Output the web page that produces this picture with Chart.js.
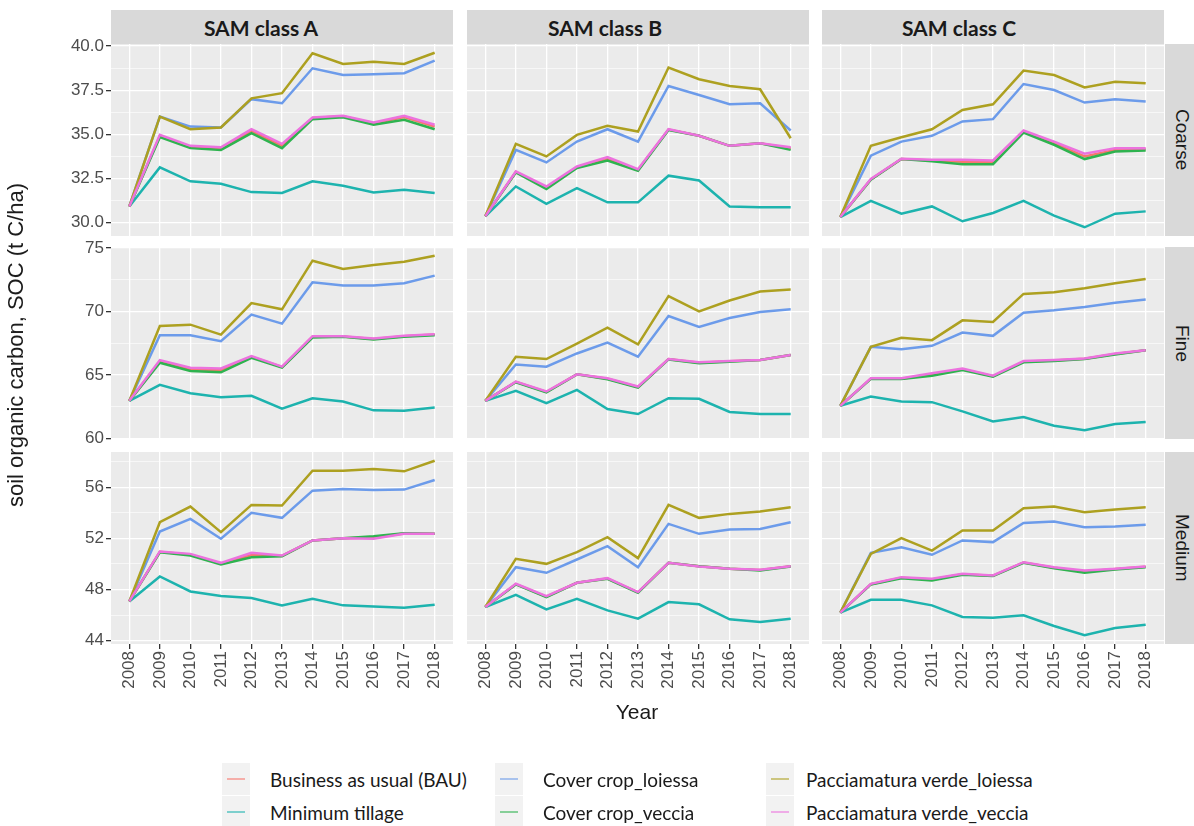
<!DOCTYPE html>
<html>
<head>
<meta charset="utf-8">
<script src="https://cdn.jsdelivr.net/npm/chart.js@4/dist/chart.umd.min.js"></script>
<style>
  html, body { margin: 0; padding: 0; background: #fff; }
  body { width: 1194px; height: 826px; position: relative; overflow: hidden; font-family: "Liberation Sans", Arial, sans-serif; }
  .abs { position: absolute; }
  .strip { background: #D9D9D9; color: #1A1A1A; }
  .topStrip { font-family: Lato, "Open Sans", sans-serif; font-weight: 700; font-size: 21px; }
  .topStrip span { position: absolute; top: 50%; transform: translate(-50%, -50%); white-space: nowrap; }
  .sideStrip { display: flex; align-items: center; justify-content: center; }
  .sideStrip span { writing-mode: vertical-rl; font-size: 19px; color: #1A1A1A; white-space: nowrap; }
  .axisTitle { color: #1A1A1A; white-space: nowrap; }
  .legend { font-family: Lato, "Open Sans", sans-serif; font-size: 19px; color: #1A1A1A; }
  .key { position: absolute; width: 28px; height: 32px; background: #F2F2F2; }
  .key i { position: absolute; left: 5px; right: 5px; top: 15px; height: 2px; opacity: 0.55; }
  .lab { position: absolute; white-space: nowrap; transform: translateY(-50%); }
</style>
</head>
<body>
<script>
// ---- data -------------------------------------------------------------
const years = [2008, 2009, 2010, 2011, 2012, 2013, 2014, 2015, 2016, 2017, 2018];
const samClasses = ['SAM class A', 'SAM class B', 'SAM class C'];
const textures = ['Coarse', 'Fine', 'Medium'];

const seriesNames = [
  'Business as usual (BAU)',
  'Minimum tillage',
  'Cover crop_loiessa',
  'Cover crop_veccia',
  'Pacciamatura verde_loiessa',
  'Pacciamatura verde_veccia'
];
const seriesColors = ['#F8766D', '#1DB3AE', '#6C9BEA', '#2EB34F', '#ADA020', '#EC72DE'];

// y-axis breaks (labelled) for each texture row
const coarseTicks = [30.0, 32.5, 35.0, 37.5, 40.0];
const coarseTickLabels = ['30.0', '32.5', '35.0', '37.5', '40.0'];
const fineTicks = [60, 65, 70, 75];
const fineTickLabels = ['60', '65', '70', '75'];
const mediumTicks = [44, 48, 52, 56];
const mediumTickLabels = ['44', '48', '52', '56'];

// SOC (t C/ha), one row per series in seriesNames order
const coarseA = [
  [30.92, 34.92, 34.30, 34.20, 35.20, 34.36, 35.92, 36.02, 35.62, 35.98, 35.44],
  [30.92, 33.13, 32.34, 32.20, 31.73, 31.68, 32.34, 32.09, 31.71, 31.86, 31.68],
  [30.92, 36.00, 35.44, 35.39, 36.99, 36.76, 38.74, 38.36, 38.40, 38.46, 39.17],
  [30.92, 34.84, 34.22, 34.12, 35.07, 34.22, 35.86, 35.97, 35.54, 35.82, 35.29],
  [30.92, 36.00, 35.29, 35.39, 37.04, 37.33, 39.59, 38.98, 39.11, 38.98, 39.62],
  [30.92, 34.97, 34.35, 34.27, 35.29, 34.46, 35.95, 36.05, 35.67, 36.05, 35.54]
];
const coarseB = [
  [30.36, 32.87, 31.98, 33.14, 33.62, 32.99, 35.27, 34.92, 34.35, 34.50, 34.20],
  [30.36, 32.05, 31.07, 31.96, 31.15, 31.15, 32.66, 32.39, 30.92, 30.87, 30.87],
  [30.36, 34.12, 33.41, 34.59, 35.29, 34.59, 37.74, 37.23, 36.70, 36.76, 35.22],
  [30.36, 32.84, 31.90, 33.09, 33.52, 32.94, 35.25, 34.92, 34.35, 34.50, 34.12],
  [30.36, 34.46, 33.75, 34.97, 35.48, 35.16, 38.78, 38.12, 37.74, 37.55, 34.78],
  [30.36, 32.90, 32.05, 33.18, 33.71, 33.03, 35.29, 34.92, 34.35, 34.50, 34.27]
];
const coarseC = [
  [30.32, 32.45, 33.61, 33.52, 33.45, 33.42, 35.16, 34.50, 33.75, 34.12, 34.15],
  [30.32, 31.24, 30.51, 30.92, 30.08, 30.55, 31.24, 30.40, 29.74, 30.51, 30.64],
  [30.32, 33.79, 34.59, 34.92, 35.73, 35.86, 37.85, 37.51, 36.80, 36.99, 36.86],
  [30.32, 32.43, 33.60, 33.47, 33.31, 33.31, 35.10, 34.41, 33.60, 34.03, 34.09],
  [30.32, 34.35, 34.84, 35.29, 36.38, 36.70, 38.61, 38.36, 37.65, 37.98, 37.89],
  [30.32, 32.47, 33.62, 33.56, 33.56, 33.52, 35.22, 34.59, 33.90, 34.22, 34.22]
];
const fineA = [
  [62.95, 66.08, 65.45, 65.37, 66.42, 65.62, 68.00, 68.03, 67.83, 68.05, 68.18],
  [62.95, 64.21, 63.55, 63.24, 63.35, 62.33, 63.16, 62.90, 62.20, 62.17, 62.43],
  [62.95, 68.13, 68.13, 67.66, 69.75, 69.04, 72.31, 72.05, 72.05, 72.23, 72.83],
  [62.95, 65.96, 65.31, 65.20, 66.35, 65.57, 67.94, 68.00, 67.79, 68.00, 68.13],
  [62.95, 68.86, 68.96, 68.18, 70.66, 70.17, 74.01, 73.35, 73.67, 73.93, 74.40],
  [62.95, 66.17, 65.57, 65.51, 66.48, 65.65, 68.05, 68.05, 67.87, 68.08, 68.21]
];
const fineB = [
  [62.95, 64.45, 63.65, 65.04, 64.70, 64.04, 66.24, 65.95, 66.07, 66.17, 66.56],
  [62.95, 63.74, 62.77, 63.82, 62.30, 61.91, 63.16, 63.11, 62.07, 61.91, 61.91],
  [62.95, 65.82, 65.64, 66.69, 67.55, 66.43, 69.64, 68.78, 69.49, 69.96, 70.17],
  [62.95, 64.42, 63.61, 65.04, 64.65, 64.00, 66.22, 65.91, 66.04, 66.17, 66.56],
  [62.95, 66.43, 66.25, 67.47, 68.73, 67.40, 71.21, 70.01, 70.87, 71.58, 71.73],
  [62.95, 64.47, 63.69, 65.04, 64.73, 64.08, 66.25, 65.99, 66.09, 66.17, 66.56]
];
const fineC = [
  [62.56, 64.70, 64.70, 65.03, 65.45, 64.90, 66.04, 66.13, 66.28, 66.65, 66.95],
  [62.56, 63.29, 62.90, 62.85, 62.12, 61.33, 61.67, 60.99, 60.63, 61.12, 61.28],
  [62.56, 67.21, 67.03, 67.29, 68.34, 68.08, 69.90, 70.09, 70.35, 70.69, 70.95],
  [62.56, 64.68, 64.68, 64.94, 65.38, 64.86, 65.99, 66.09, 66.25, 66.61, 66.95],
  [62.56, 67.21, 67.92, 67.74, 69.30, 69.17, 71.39, 71.52, 71.84, 72.23, 72.57],
  [62.56, 64.73, 64.73, 65.12, 65.51, 64.94, 66.09, 66.17, 66.30, 66.69, 66.95]
];
const mediumA = [
  [47.07, 50.95, 50.72, 50.02, 50.70, 50.63, 51.84, 52.02, 52.07, 52.38, 52.36],
  [47.07, 49.02, 47.85, 47.49, 47.33, 46.76, 47.28, 46.76, 46.68, 46.58, 46.81],
  [47.07, 52.54, 53.53, 51.97, 54.00, 53.61, 55.74, 55.87, 55.79, 55.82, 56.57],
  [47.07, 50.92, 50.66, 49.96, 50.53, 50.61, 51.84, 52.02, 52.17, 52.41, 52.36],
  [47.07, 53.27, 54.49, 52.49, 54.62, 54.57, 57.30, 57.30, 57.43, 57.25, 58.08],
  [47.07, 50.98, 50.79, 50.09, 50.87, 50.66, 51.84, 52.02, 51.97, 52.36, 52.36]
];
const mediumB = [
  [46.63, 48.42, 47.45, 48.53, 48.86, 47.78, 50.09, 49.82, 49.62, 49.52, 49.82],
  [46.63, 47.59, 46.45, 47.28, 46.37, 45.72, 47.02, 46.84, 45.67, 45.46, 45.72],
  [46.63, 49.75, 49.31, 50.35, 51.39, 49.75, 53.14, 52.36, 52.69, 52.74, 53.27],
  [46.63, 48.40, 47.41, 48.53, 48.84, 47.75, 50.09, 49.83, 49.62, 49.49, 49.81],
  [46.63, 50.40, 50.01, 50.92, 52.10, 50.46, 54.62, 53.61, 53.92, 54.10, 54.44],
  [46.63, 48.45, 47.49, 48.53, 48.89, 47.80, 50.09, 49.81, 49.62, 49.54, 49.83]
];
const mediumC = [
  [46.19, 48.42, 48.93, 48.78, 49.19, 49.08, 50.12, 49.71, 49.40, 49.60, 49.78],
  [46.19, 47.20, 47.20, 46.76, 45.85, 45.80, 45.98, 45.15, 44.42, 44.99, 45.25],
  [46.19, 50.87, 51.31, 50.72, 51.84, 51.71, 53.21, 53.32, 52.87, 52.93, 53.06],
  [46.19, 48.40, 48.89, 48.71, 49.15, 49.05, 50.09, 49.67, 49.31, 49.57, 49.75],
  [46.19, 50.79, 52.02, 51.05, 52.62, 52.62, 54.36, 54.49, 54.05, 54.26, 54.44],
  [46.19, 48.45, 48.97, 48.84, 49.23, 49.10, 50.14, 49.75, 49.49, 49.62, 49.81]
];

// ---- layout -----------------------------------------------------------
const panelData = [
  [coarseA, coarseB, coarseC],
  [fineA, fineB, fineC],
  [mediumA, mediumB, mediumC]
];
const rowTicks = [coarseTicks, fineTicks, mediumTicks];
const rowTickLabels = [coarseTickLabels, fineTickLabels, mediumTickLabels];

const PANEL_W = 342, PANEL_H = 192;
const colX = [111, 467, 822];
const rowY = [44, 247, 452];
const MARGIN = 16;          // spare canvas room around each panel
const Y_AXIS_W = 80;        // left column: tick labels + tick marks
const X_AXIS_H = 62;        // bottom row: rotated year labels
const TICK_FONT = { family: '"Liberation Sans", Arial, sans-serif', size: 17 };

// shared y range per row: data range plus 5% on each side
function rowRange(r) {
  let lo = Infinity, hi = -Infinity;
  panelData[r].forEach(p => p.forEach(s => s.forEach(v => { lo = Math.min(lo, v); hi = Math.max(hi, v); })));
  const pad = (hi - lo) * 0.05;
  return [lo - pad, hi + pad];
}

const panelBackground = {
  id: 'panelBackground',
  beforeDraw(chart) {
    const a = chart.chartArea, ctx = chart.ctx;
    ctx.save();
    ctx.fillStyle = '#EBEBEB';
    ctx.fillRect(a.left, a.top, a.right - a.left, a.bottom - a.top);
    ctx.restore();
  }
};

function el(cls, css, html) {
  const d = document.createElement('div');
  d.className = cls;
  Object.assign(d.style, css);
  if (html !== undefined) d.innerHTML = html;
  document.body.appendChild(d);
  return d;
}

function makePanel(r, c) {
  const leftW = c === 0 ? Y_AXIS_W : 0;
  const bottomH = r === 2 ? X_AXIS_H : 0;
  const w = PANEL_W + leftW + 2 * MARGIN;
  const h = PANEL_H + bottomH + 2 * MARGIN;
  const holder = el('abs', { left: (colX[c] - leftW - MARGIN) + 'px', top: (rowY[r] - MARGIN) + 'px', width: w + 'px', height: h + 'px' });
  const cv = document.createElement('canvas');
  cv.width = w; cv.height = h;
  cv.style.width = w + 'px'; cv.style.height = h + 'px';
  holder.appendChild(cv);

  const [yMin, yMax] = rowRange(r);
  const major = rowTicks[r];
  const labels = rowTickLabels[r];
  const step = major[1] - major[0];
  const allTicks = [];
  for (let v = major[0] - step / 2; v <= yMax; v += step / 2) {
    if (v >= yMin) allTicks.push(+v.toFixed(4));
  }
  const majorIndex = v => major.findIndex(m => Math.abs(m - v) < 1e-6);

  const values = panelData[r][c];
  const datasets = seriesNames.map((name, i) => ({
    label: name,
    data: years.map((yr, k) => ({ x: yr, y: values[i][k] })),
    borderColor: seriesColors[i],
    backgroundColor: seriesColors[i],
    borderWidth: 2.5,
    pointRadius: 0,
    tension: 0,
    fill: false,
    order: seriesNames.length - 1 - i
  }));

  new Chart(cv, {
    type: 'line',
    data: { datasets },
    options: {
      responsive: false,
      animation: false,
      events: [],
      layout: { padding: MARGIN },
      plugins: { legend: { display: false }, tooltip: { enabled: false } },
      scales: {
        x: {
          type: 'linear',
          min: years[0] - 0.6,
          max: years[years.length - 1] + 0.6,
          afterBuildTicks: s => { s.ticks = years.map(v => ({ value: v })); },
          afterFit: s => { s.height = bottomH; },
          border: { display: false },
          grid: { color: '#FFFFFF', lineWidth: 1.3, drawTicks: r === 2, tickLength: 5, tickColor: '#333333' },
          ticks: {
            display: r === 2, autoSkip: false, minRotation: 90, maxRotation: 90,
            color: '#4D4D4D', font: TICK_FONT, padding: 2,
            callback: v => String(v)
          }
        },
        y: {
          type: 'linear',
          min: yMin,
          max: yMax,
          afterBuildTicks: s => { s.ticks = allTicks.map(v => ({ value: v })); },
          afterFit: s => { s.width = leftW; },
          border: { display: false },
          grid: {
            color: '#FFFFFF',
            lineWidth: ctx => (ctx.tick && majorIndex(ctx.tick.value) >= 0) ? 1.3 : 0.6,
            drawTicks: c === 0,
            tickLength: 5,
            tickColor: ctx => (ctx.tick && majorIndex(ctx.tick.value) >= 0) ? '#333333' : 'rgba(0,0,0,0)'
          },
          ticks: {
            display: c === 0, autoSkip: false, color: '#4D4D4D', font: TICK_FONT, padding: 2,
            callback: v => { const i = majorIndex(v); return i >= 0 ? labels[i] : ''; }
          }
        }
      }
    },
    plugins: [panelBackground]
  });
}

// strips
samClasses.forEach((name, c) => {
  const s = el('abs strip topStrip', { left: colX[c] + 'px', top: '10px', width: PANEL_W + 'px', height: '34px' });
  const t = document.createElement('span');
  t.textContent = name;
  t.style.left = [150, 138, 137][c] + 'px';
  s.appendChild(t);
});
textures.forEach((name, r) => {
  const s = el('abs strip sideStrip', { left: (colX[2] + PANEL_W + 1) + 'px', top: rowY[r] + 'px', width: '34px', height: PANEL_H + 'px' });
  const t = document.createElement('span');
  t.textContent = name;
  s.appendChild(t);
});

for (let r = 0; r < 3; r++) for (let c = 0; c < 3; c++) makePanel(r, c);

// axis titles
el('abs axisTitle', { left: '16px', top: '345px', fontSize: '22px', transform: 'translate(-50%, -50%) rotate(-90deg)' }, 'soil organic carbon, SOC (t C/ha)');
el('abs axisTitle', { left: '637px', top: '712px', fontSize: '21px', transform: 'translate(-50%, -50%)' }, 'Year');

// legend: three columns, two rows
const legendCols = [[0, 1], [2, 3], [4, 5]];
const keyX = [222, 495, 766];
const textX = [270, 543, 806];
const rowCY = [779, 812];
legendCols.forEach((items, c) => {
  items.forEach((idx, k) => {
    const key = el('abs key', { left: keyX[c] + 'px', top: (rowCY[k] - 16) + 'px' });
    const line = document.createElement('i');
    line.style.background = seriesColors[idx];
    key.appendChild(line);
    el('abs legend lab', { left: textX[c] + 'px', top: rowCY[k] + 'px' }, seriesNames[idx]);
  });
});
</script>
</body>
</html>
